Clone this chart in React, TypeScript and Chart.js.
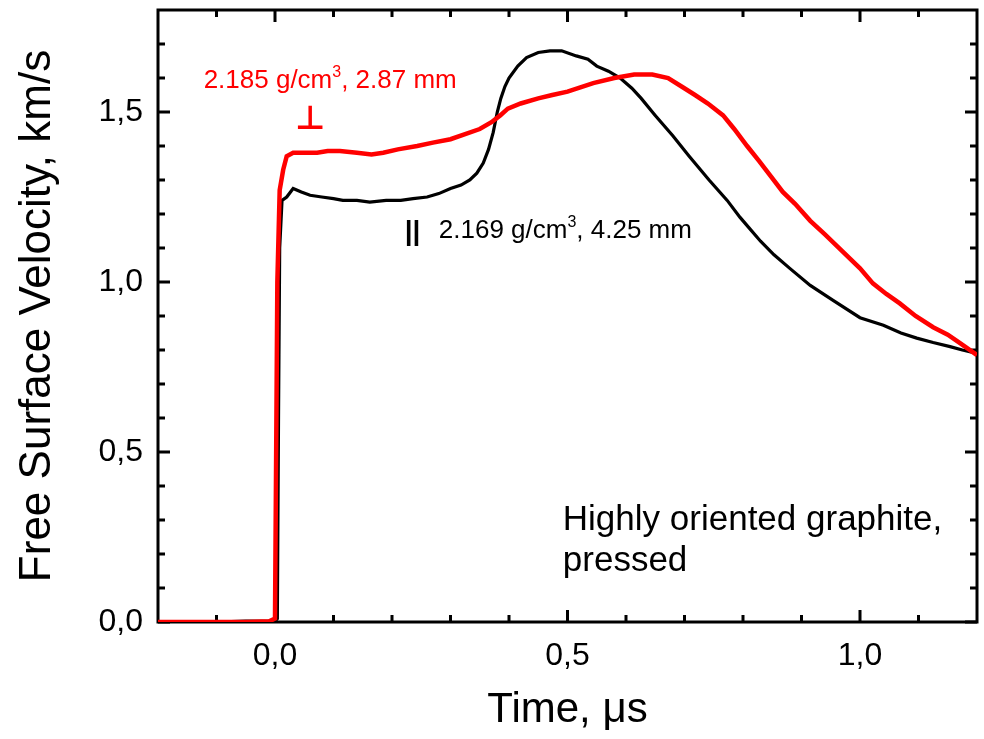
import React, { useEffect, useRef } from "react";
import { Chart, registerables } from "chart.js";

Chart.register(...registerables);

// ---- Data (time in µs, free surface velocity in km/s) ----
// Red trace: 2.185 g/cm3, 2.87 mm
const redTime = [
  -0.2, -0.1, -0.05, -0.01, 0.0, 0.002, 0.004, 0.008, 0.014, 0.02, 0.031, 0.05, 0.072, 0.09, 0.111,
  0.14, 0.165, 0.185, 0.21, 0.243, 0.27, 0.3, 0.325, 0.35, 0.37, 0.385, 0.398, 0.42, 0.45, 0.474,
  0.5, 0.544, 0.58, 0.614, 0.645, 0.672, 0.695, 0.718, 0.74, 0.766, 0.785, 0.807, 0.828, 0.848,
  0.868, 0.889, 0.915, 0.94, 0.97, 1.0, 1.022, 1.045, 1.068, 1.095, 1.125, 1.15, 1.171, 1.2,
];
const redVelocity = [
  0, 0, 0, 0.002, 0.01, 0.5, 1.0, 1.27, 1.33, 1.37, 1.38, 1.38, 1.38, 1.385, 1.385,
  1.38, 1.375, 1.38, 1.39, 1.4, 1.41, 1.42, 1.435, 1.45, 1.47, 1.49, 1.51, 1.525, 1.54, 1.55,
  1.56, 1.585, 1.6, 1.61, 1.61, 1.6, 1.575, 1.55, 1.525, 1.49, 1.45, 1.4, 1.355, 1.31,
  1.265, 1.23, 1.18, 1.14, 1.09, 1.04, 0.996, 0.965, 0.937, 0.9, 0.867, 0.845, 0.82, 0.785,
];

// Black trace: 2.169 g/cm3, 4.25 mm
const blackTime = [
  -0.2, -0.1, -0.05, 0.0, 0.004, 0.006, 0.008, 0.012, 0.02, 0.031, 0.045, 0.06, 0.08, 0.1, 0.116,
  0.14, 0.162, 0.19, 0.215, 0.236, 0.26, 0.28, 0.3, 0.318, 0.333, 0.345, 0.356, 0.365, 0.373, 0.38,
  0.386, 0.393, 0.4, 0.415, 0.43, 0.45, 0.47, 0.49, 0.515, 0.535, 0.55, 0.57, 0.59, 0.61, 0.626,
  0.65, 0.68, 0.708, 0.742, 0.773, 0.795, 0.81, 0.83, 0.853, 0.88, 0.915, 0.954, 1.0, 1.04, 1.07,
  1.097, 1.125, 1.154, 1.175, 1.2,
];
const blackVelocity = [
  0, 0, 0.003, 0.002, 0.01, 0.6, 1.1, 1.24, 1.25, 1.275, 1.265, 1.255, 1.25, 1.245, 1.24,
  1.24, 1.235, 1.24, 1.24, 1.245, 1.25, 1.26, 1.275, 1.285, 1.3, 1.32, 1.35, 1.39, 1.44, 1.5,
  1.54, 1.575, 1.6, 1.635, 1.66, 1.675, 1.68, 1.68, 1.665, 1.655, 1.635, 1.62, 1.6, 1.57, 1.54,
  1.49, 1.43, 1.37, 1.3, 1.24, 1.19, 1.16, 1.12, 1.08, 1.04, 0.99, 0.946, 0.895, 0.873, 0.85,
  0.835, 0.822, 0.81, 0.8, 0.79,
];

// ---- Axes ----
const xMajorTicks = [0, 0.5, 1.0];
const xMinorTicks = [-0.1, 0.1, 0.2, 0.3, 0.4, 0.6, 0.7, 0.8, 0.9, 1.1];
const yMajorTicks = [0, 0.5, 1.0, 1.5];
const yMinorTicks = [0.1, 0.2, 0.3, 0.4, 0.6, 0.7, 0.8, 0.9, 1.1, 1.2, 1.3, 1.4, 1.6, 1.7];

const xTitle = "Time, \u03bcs";
const yTitle = "Free Surface Velocity, km/s";
const redLabel = ["2.185 g/cm", "3", ", 2.87 mm"];
const blackLabel = ["2.169 g/cm", "3", ", 4.25 mm"];
const noteLines = ["Highly oriented graphite,", "pressed"];

const FONT = '"Liberation Sans", Arial, Helvetica, sans-serif';

const fmt = (v: number) => v.toFixed(1).replace(".", ",");

const framePlugin = {
  id: "frameTicks",
  beforeDatasetsDraw(chart: any) {
    const { ctx, chartArea } = chart;
    const xs = chart.scales.x;
    const ys = chart.scales.y;
    const { left, right, top, bottom } = chartArea;
    ctx.save();
    ctx.strokeStyle = "#000";
    ctx.lineWidth = 3;
    ctx.lineCap = "butt";
    const major = 12;
    const minor = 7;
    ctx.beginPath();
    const xt = (v: number, len: number) => {
      const p = xs.getPixelForValue(v);
      ctx.moveTo(p, bottom);
      ctx.lineTo(p, bottom - len);
      ctx.moveTo(p, top);
      ctx.lineTo(p, top + len);
    };
    const yt = (v: number, len: number) => {
      const p = ys.getPixelForValue(v);
      ctx.moveTo(left, p);
      ctx.lineTo(left + len, p);
      ctx.moveTo(right, p);
      ctx.lineTo(right - len, p);
    };
    xMajorTicks.forEach((v) => xt(v, major));
    xMinorTicks.forEach((v) => xt(v, minor));
    yMajorTicks.forEach((v) => yt(v, major));
    yMinorTicks.forEach((v) => yt(v, minor));
    ctx.stroke();
    ctx.strokeRect(left, top, right - left, bottom - top);
    ctx.restore();
  },
  afterDatasetsDraw(chart: any) {
    const { ctx } = chart;
    const xs = chart.scales.x;
    const ys = chart.scales.y;
    const X = (v: number) => xs.getPixelForValue(v);
    const Y = (v: number) => ys.getPixelForValue(v);
    ctx.save();
    ctx.textBaseline = "alphabetic";
    ctx.textAlign = "left";

    const drawSup = (parts: string[], x: number, y: number, color: string) => {
      ctx.fillStyle = color;
      ctx.font = `26px ${FONT}`;
      ctx.fillText(parts[0], x, y);
      let cx = x + ctx.measureText(parts[0]).width;
      ctx.font = `16px ${FONT}`;
      ctx.fillText(parts[1], cx, y - 11);
      cx += ctx.measureText(parts[1]).width;
      ctx.font = `26px ${FONT}`;
      ctx.fillText(parts[2], cx, y);
    };

    // red annotation
    drawSup(redLabel, X(-0.122), Y(1.57), "#ff0000");
    ctx.font = `bold 33px "DejaVu Sans", sans-serif`;
    ctx.fillStyle = "#ff0000";
    ctx.textAlign = "center";
    ctx.fillText("\u22a5", X(0.06), Y(1.45));

    // black annotation
    ctx.font = `bold 28px ${FONT}`;
    ctx.fillStyle = "#000";
    ctx.fillText("||", X(0.235), Y(1.125));
    ctx.textAlign = "left";
    drawSup(blackLabel, X(0.28), Y(1.129), "#000");

    // note
    ctx.font = `35px ${FONT}`;
    ctx.fillStyle = "#000";
    ctx.fillText(noteLines[0], X(0.492), Y(0.27));
    ctx.fillText(noteLines[1], X(0.492), Y(0.15));
    ctx.restore();
  },
};

export default function App() {
  const canvasRef = useRef<HTMLCanvasElement | null>(null);

  useEffect(() => {
    if (!canvasRef.current) return;
    const chart = new Chart(canvasRef.current, {
      type: "line",
      data: {
        datasets: [
          {
            label: "2.185 g/cm3, 2.87 mm",
            data: redTime.map((t, i) => ({ x: t, y: redVelocity[i] })),
            borderColor: "#ff0000",
            borderWidth: 4.5,
            pointRadius: 0,
            tension: 0,
            fill: false,
          },
          {
            label: "2.169 g/cm3, 4.25 mm",
            data: blackTime.map((t, i) => ({ x: t, y: blackVelocity[i] })),
            borderColor: "#000000",
            borderWidth: 3.2,
            pointRadius: 0,
            tension: 0,
            fill: false,
          },
        ],
      },
      options: {
        animation: false,
        responsive: false,
        events: [],
        layout: { padding: { top: 10, right: 7, left: 0, bottom: 0 } },
        plugins: {
          legend: { display: false },
          tooltip: { enabled: false },
        },
        scales: {
          x: {
            type: "linear",
            min: -0.2,
            max: 1.2,
            afterBuildTicks: (s: any) => {
              s.ticks = xMajorTicks.map((value) => ({ value }));
            },
            afterFit: (s: any) => {
              s.height = 117;
              s.paddingLeft = 0;
              s.paddingRight = 0;
            },
            grid: { display: false, drawTicks: false },
            border: { display: false },
            ticks: {
              color: "#000",
              font: { family: FONT, size: 32 },
              padding: 15,
              maxRotation: 0,
              autoSkip: false,
              callback: (v: any) => fmt(Number(v)),
            },
            title: {
              display: true,
              text: xTitle,
              color: "#000",
              font: { family: FONT, size: 42 },
              padding: { top: 0, bottom: 3 },
            },
          },
          y: {
            type: "linear",
            min: 0,
            max: 1.8,
            afterBuildTicks: (s: any) => {
              s.ticks = yMajorTicks.map((value) => ({ value }));
            },
            afterFit: (s: any) => {
              s.width = 158;
              s.paddingTop = 0;
              s.paddingBottom = 0;
            },
            grid: { display: false, drawTicks: false },
            border: { display: false },
            ticks: {
              color: "#000",
              font: { family: FONT, size: 32 },
              padding: 15,
              autoSkip: false,
              callback: (v: any) => fmt(Number(v)),
            },
            title: {
              display: true,
              text: yTitle,
              color: "#000",
              font: { family: FONT, size: 44 },
              padding: { top: 11, bottom: 0 },
            },
          },
        },
      },
      plugins: [framePlugin],
    });
    return () => chart.destroy();
  }, []);

  return (
    <div style={{ position: "fixed", left: 0, top: 0, width: 984, height: 739, background: "#fff" }}>
      <canvas ref={canvasRef} width={984} height={739} />
    </div>
  );
}
